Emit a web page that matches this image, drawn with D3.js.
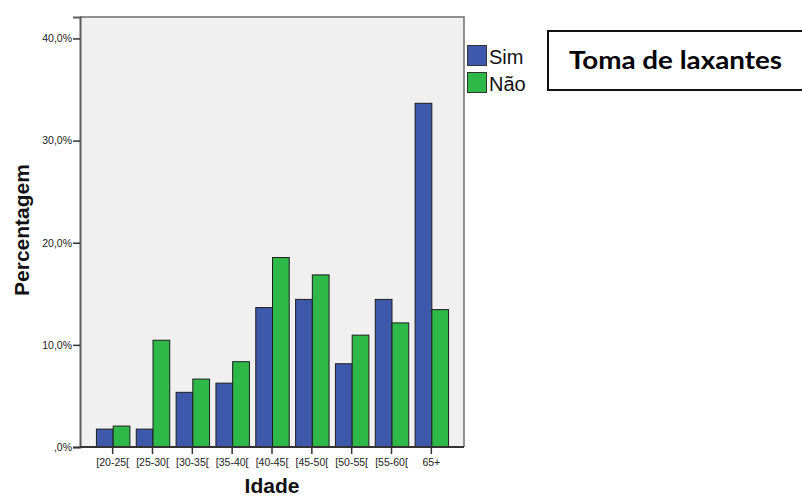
<!DOCTYPE html>
<html>
<head>
<meta charset="utf-8">
<script src="https://cdn.jsdelivr.net/npm/d3@7"></script>
<style>
  html, body { margin: 0; padding: 0; background: #ffffff; }
  svg { display: block; }
</style>
</head>
<body>
<svg id="chart" width="802" height="498"></svg>
<script>
const categories = ["[20-25[", "[25-30[", "[30-35[", "[35-40[", "[40-45[", "[45-50[", "[50-55[", "[55-60[", "65+"];
const seriesNames = ["Sim", "Não"];
const simValues = [1.8, 1.8, 5.4, 6.3, 13.7, 14.5, 8.2, 14.5, 33.7];
const naoValues = [2.1, 10.5, 6.7, 8.4, 18.6, 16.9, 11.0, 12.2, 13.5];
const yTicks = [0, 10, 20, 30, 40];
const yTickLabels = [",0%", "10,0%", "20,0%", "30,0%", "40,0%"];
const colors = ["#3e58ac", "#2eb848"];
const titleText = "Toma de laxantes";
const xTitle = "Idade";
const yTitle = "Percentagem";

const svg = d3.select("#chart");
const plot = { left: 80, right: 464, top: 17, bottom: 447 };

const x = d3.scaleBand().domain(categories).range([plot.left, plot.right]).paddingInner(0.16).paddingOuter(0.4);
const xs = d3.scaleBand().domain(seriesNames).range([0, x.bandwidth()]);
const y = d3.scaleLinear().domain([0, 42.1]).range([plot.bottom, plot.top]);

// plot background
svg.append("rect")
  .attr("x", plot.left).attr("y", plot.top)
  .attr("width", plot.right - plot.left).attr("height", plot.bottom - plot.top)
  .attr("fill", "#f0f0f0").attr("stroke", "none");
// top & right border
svg.append("path")
  .attr("d", `M${plot.left},${plot.top}H${plot.right}V${plot.bottom}`)
  .attr("fill", "none").attr("stroke", "#6e6e6e").attr("stroke-width", 1.5);

// bars
const data = categories.map((c, i) => ({ cat: c, vals: [simValues[i], naoValues[i]] }));
const groups = svg.append("g").selectAll("g").data(data).join("g")
  .attr("transform", d => `translate(${x(d.cat)},0)`);
groups.selectAll("rect").data(d => d.vals.map((v, j) => ({ v, s: seriesNames[j], j })))
  .join("rect")
  .attr("x", d => xs(d.s) + 0.5)
  .attr("y", d => y(d.v) + 0.5)
  .attr("width", xs.bandwidth())
  .attr("height", d => y(0) - y(d.v))
  .attr("fill", d => colors[d.j])
  .attr("stroke", "#1e1e1e").attr("stroke-width", 1);

// y axis
const yAxis = d3.axisLeft(y).tickValues(yTicks).tickFormat((d, i) => yTickLabels[i]).tickSize(7).tickPadding(1);
const gy = svg.append("g").attr("transform", `translate(${plot.left},0)`).call(yAxis);
gy.select(".domain").attr("stroke", "#5a5a5a").attr("stroke-width", 2);
gy.selectAll(".tick line").attr("stroke", "#333").attr("stroke-width", 1.5);
gy.selectAll(".tick text").attr("font-family", "Liberation Sans, Arial, sans-serif").attr("font-size", 10.5).attr("fill", "#222");

// x axis
const xAxis = d3.axisBottom(x).tickSize(7).tickPadding(5);
const gx = svg.append("g").attr("transform", `translate(0,${plot.bottom})`).call(xAxis);
gx.select(".domain").attr("stroke", "#333").attr("stroke-width", 2).attr("d", `M${plot.left},0H${plot.right}`);
gx.selectAll(".tick line").attr("stroke", "#333").attr("stroke-width", 1.5);
gx.selectAll(".tick text").attr("font-family", "Liberation Sans, Arial, sans-serif").attr("font-size", 10.5).attr("fill", "#222");

// axis titles
svg.append("text").attr("x", (plot.left + plot.right) / 2).attr("y", 493)
  .attr("text-anchor", "middle").attr("font-family", "Liberation Sans, Arial, sans-serif")
  .attr("font-weight", "bold").attr("font-size", 21).attr("fill", "#111").text(xTitle);
svg.append("text").attr("transform", `translate(28.5,230) rotate(-90)`)
  .attr("text-anchor", "middle").attr("font-family", "Liberation Sans, Arial, sans-serif")
  .attr("font-weight", "bold").attr("font-size", 21).attr("fill", "#111").text(yTitle);

// legend
const legend = svg.append("g").attr("transform", "translate(467,45)");
seriesNames.forEach((s, i) => {
  legend.append("rect").attr("x", 0.5).attr("y", i * 27 + 0.5).attr("width", 19).attr("height", 20)
    .attr("fill", colors[i]).attr("stroke", "#333").attr("stroke-width", 1);
  legend.append("text").attr("x", 22).attr("y", i * 27 + 19)
    .attr("font-family", "Liberation Sans, Arial, sans-serif").attr("font-size", 20).attr("fill", "#111").text(s);
});

// title box
svg.append("rect").attr("x", 548).attr("y", 31).attr("width", 270).attr("height", 59)
  .attr("fill", "#fff").attr("stroke", "#111").attr("stroke-width", 2);
svg.append("text").attr("x", 569).attr("y", 69)
  .attr("font-family", "Lato, 'Open Sans', sans-serif").attr("font-weight", "bold")
  .attr("font-size", 24).attr("fill", "#000")
  .attr("textLength", 213).attr("lengthAdjust", "spacingAndGlyphs").text(titleText);
</script>
</body>
</html>
